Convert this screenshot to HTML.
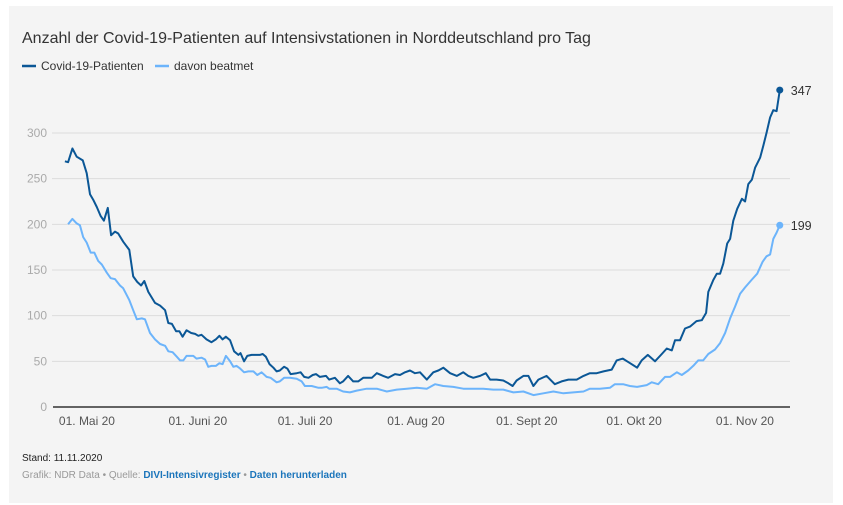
<!DOCTYPE html>
<html><head><meta charset="utf-8"><style>
html,body{margin:0;padding:0;background:#fff;width:843px;height:505px;overflow:hidden;font-family:"Liberation Sans",Arial,sans-serif}
#panel{position:absolute;left:9px;top:6px;width:824px;height:497px;background:#f4f4f4}
</style></head><body>
<div id="panel"></div>
<svg id="chart" width="843" height="505" style="position:absolute;left:0;top:0">
<text x="22" y="43" font-size="16" fill="#333">Anzahl der Covid-19-Patienten auf Intensivstationen in Norddeutschland pro Tag</text>
<g>
<line x1="22" y1="66" x2="36" y2="66" stroke="#0b5796" stroke-width="2.5"/>
<text x="41" y="70" font-size="12" fill="#333">Covid-19-Patienten</text>
<line x1="155" y1="66" x2="169" y2="66" stroke="#6cb4fb" stroke-width="2.5"/>
<text x="174" y="70" font-size="12" fill="#333">davon beatmet</text>
</g>
<g id="grid"></g><g id="axes"></g><g id="series"></g>
<text x="22" y="461" font-size="10" fill="#222">Stand: 11.11.2020</text>
<text x="22" y="478" font-size="10" fill="#999">Grafik: NDR Data • Quelle: <tspan fill="#1b75bb" font-weight="bold">DIVI-Intensivregister</tspan> • <tspan fill="#1b75bb" font-weight="bold">Daten herunterladen</tspan></text>
</svg>
<script>
// days since 25 Apr 2020
const darkDays=[0.4,1.3,2.5,3.7,5.4,6.5,7.4,8.3,9.3,10.4,11.3,12.4,13.3,14.4,15.3,16.7,18.4,19.5,20.6,21.7,22.6,23.7,25.6,27,28.4,29.3,30.3,31.5,32.4,33.3,34.4,35.7,36.8,37.7,38.6,40,41.4,42.6,43.6,44.5,45.4,46.6,47.7,48.9,49.5,50.5,51.4,52.6,54.9,55.7,56.6,57.6,58.7,59.6,60.5,61.7,62.6,63.5,65.2,66.3,67.3,68.5,69.7,70.6,71.7,73.4,74.3,75.9,77.3,78.2,79.6,81,82.4,83.8,86.2,87.6,89.4,90.8,92.7,94.1,95.5,96.9,98.3,99.7,101.6,103.4,104.8,106.2,108.1,110,111.8,113.2,114.6,116.5,118.1,119.3,121.1,123,124.4,125.6,126.7,128.6,130,131.4,132.8,135.1,137.4,139.3,141.2,143.5,145.4,147.2,149.1,151,153.3,154.7,156.4,158,160.4,161.7,163.4,165.4,167.3,168.7,170.1,171,172.4,173.8,175.2,177,178.5,179.7,180.3,181.7,182.7,183.6,184.5,185.6,186.4,187.3,188.4,189.7,190.6,191.5,192.5,193.4,194.8,195.7,196.6,197.6,198.5,199.4,200.3];
const darkValues=[269,268,283,274,270,256,233,227,219,209,204,218,188,192,190,181,172,143,137,133,138,126,114,111,106,92,91,83,83,77,84,81,80,78,79,74,71,74,78,74,77,73,61,57,59,50,56,57,57,58,55,47,43,39,40,44,42,36,37,38,33,32,35,36,33,34,30,32,26,28,34,28,28,32,32,37,34,32,36,35,38,40,37,38,30,38,40,43,37,34,38,34,32,34,37,30,30,29,26,23,29,34,34,23,30,34,25,28,30,30,34,37,37,39,41,51,53,49,43,51,57,50,58,64,62,73,73,86,88,94,95,103,126,139,146,146,157,179,184,204,217,228,225,244,249,262,273,286,300,317,325,324,347];
const lightDays=[1.3,2.5,3.7,4.6,5.5,6.5,7.6,8.6,9.7,10.7,12.1,13.2,14.4,15.8,16.7,18.4,19.5,20.5,21.9,22.8,24.2,25.6,27,28.4,29.3,30.5,31.7,32.6,33.5,34.4,36.3,37.2,38.6,39.6,40.5,41.4,42.6,43.6,44.5,45.4,46.6,47.5,48.4,49.4,50.5,51.7,53.1,54.2,55.4,56.8,57.9,59.6,60.5,61.7,63.3,65.2,66.6,67.5,69.4,71.3,72.2,73.6,74.3,76.4,78.2,80.1,82,84.8,87.6,90.4,93.2,96,98.8,101.6,103.9,106.2,109,111.8,114.6,117.4,120.2,123,125.8,128.6,131.4,134.2,137,139.8,142.6,145.4,147.2,150,152.8,154.2,156.5,158.4,160.4,163.1,164.5,166.3,168.2,169.6,171.5,172.9,174.7,176.1,177.5,178.9,180.3,182.2,183.6,185,186.4,187.8,189.2,190.6,192.4,194,195.5,196.6,197.6,198.5,199.4,200.3];
const lightValues=[200,206,201,199,186,180,169,169,160,156,147,141,140,133,130,117,106,96,97,96,81,74,69,67,61,60,55,51,51,56,56,53,54,52,44,45,45,48,47,56,50,44,45,42,38,39,39,35,38,33,32,27,28,32,32,31,28,23,23,21,21,22,20,20,17,16,18,20,20,17,19,20,21,20,25,23,22,20,20,20,19,19,16,17,13,15,17,15,16,17,20,20,21,25,25,23,22,24,27,25,33,33,38,35,40,45,51,51,58,63,70,81,97,110,124,131,139,146,159,165,167,184,191,199];
const xTickDays=[6,37,67,98,129,159,190];
const xTickLabels=["01. Mai 20","01. Juni 20","01. Juli 20","01. Aug 20","01. Sept 20","01. Okt 20","01. Nov 20"];
const yTicks=[0,50,100,150,200,250,300];

const NS="http://www.w3.org/2000/svg";
const xS=d=>63.5+d*3.576;
const yS=v=>407-v*274/300;
function mk(tag,attrs,parent){const e=document.createElementNS(NS,tag);for(const k in attrs)e.setAttribute(k,attrs[k]);parent.appendChild(e);return e;}
const grid=document.getElementById('grid'),axes=document.getElementById('axes'),ser=document.getElementById('series');
yTicks.forEach(v=>{
  if(v>0){const l=mk('line',{x1:52,x2:790,y1:yS(v),y2:yS(v),stroke:'#dcdcdc','stroke-width':1},grid);
  
  }
  const t=mk('text',{x:47,y:yS(v)+4,'text-anchor':'end','font-size':12,fill:'#aaa'},axes);
  t.textContent=v;
  
  
});
const ax=mk('line',{x1:53,x2:790,y1:407,y2:407,stroke:'#333','stroke-width':1.5},axes);


xTickDays.forEach((d,i)=>{
  const t=mk('text',{x:xS(d)+2,y:425,'text-anchor':'middle','font-size':12,fill:'#555'},axes);
  t.textContent=xTickLabels[i];
  
  
});
function drawSeries(days,vals,color,name){
  const p=mk('path',{d:days.map((d,i)=>(i?'L':'M')+xS(d).toFixed(1)+' '+yS(vals[i]).toFixed(1)).join(''),fill:'none',stroke:color,'stroke-width':2,'stroke-linejoin':'round'},ser);
  
  
  const n=days.length-1;
  const c=mk('circle',{cx:xS(days[n]),cy:yS(vals[n]),r:3.5,fill:color},ser);
  
  
  const t=mk('text',{x:xS(days[n])+11,y:yS(vals[n])+5,'font-size':12.5,fill:'#333'},ser);
  t.textContent=vals[n];
  
  
}
drawSeries(lightDays,lightValues,'#6cb4fb','beatmet');
drawSeries(darkDays,darkValues,'#0b5796','patienten');
</script>
</body></html>
